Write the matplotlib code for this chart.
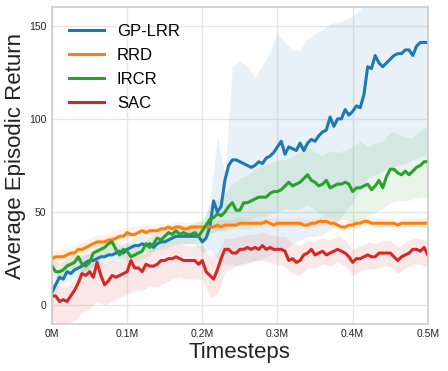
import numpy as np
import matplotlib
matplotlib.use("Agg")
import matplotlib.pyplot as plt
from matplotlib.ticker import FuncFormatter

# mean curves, one value every 5k timesteps (0 .. 0.5M)
gp_lrr = [7, 11, 15, 14, 18, 17, 19, 20, 21, 23,
          24, 24, 25, 26, 26, 27, 27, 28, 29, 28,
          30, 31, 32, 32, 33, 32, 33, 31, 33, 34,
          34, 35, 36, 37, 37, 37, 37, 37, 37, 37,
          34, 36, 42, 56, 50, 53, 67, 75, 78, 78,
          77, 76, 75, 74, 75, 77, 76, 79, 80, 82,
          85, 88, 81, 85, 84, 83, 87, 83, 87, 89,
          88, 91, 93, 94, 101, 96, 100, 100, 105, 102,
          104, 107, 106, 113, 128, 127, 134, 130, 128, 130,
          132, 134, 135, 135, 137, 137, 134, 139, 141, 141, 141]
rrd = [25, 26, 26, 26, 27, 28, 28, 30, 30, 31,
       32, 33, 34, 34, 34, 35, 35, 36, 37, 37,
       39, 38, 38, 39, 40, 39, 40, 40, 40, 41,
       41, 42, 41, 42, 42, 41, 41, 42, 42, 42,
       42, 42, 42, 42, 43, 42, 43, 43, 43, 43,
       44, 44, 44, 44, 44, 44, 44, 45, 44, 43,
       44, 44, 44, 44, 44, 44, 44, 43, 43, 44,
       44, 45, 45, 45, 44, 44, 43, 42, 42, 43,
       43, 44, 44, 45, 45, 44, 44, 44, 44, 44,
       44, 44, 43, 44, 44, 44, 44, 44, 44, 44, 44]
ircr = [21, 18, 18, 19, 21, 22, 23, 26, 22, 21,
        23, 28, 29, 30, 31, 33, 34, 30, 27, 30,
        29, 26, 27, 28, 29, 33, 31, 33, 36, 35,
        37, 39, 38, 40, 38, 39, 38, 38, 39, 37,
        40, 43, 46, 47, 49, 48, 50, 53, 55, 51,
        51, 55, 55, 56, 57, 58, 58, 58, 60, 61,
        61, 62, 64, 66, 64, 65, 66, 68, 70, 67,
        66, 64, 65, 67, 63, 64, 65, 65, 66, 65,
        61, 63, 63, 64, 65, 62, 64, 67, 63, 69,
        73, 73, 71, 70, 72, 70, 72, 74, 75, 77, 77]
sac = [5, 5, 2, 3, 2, 5, 8, 12, 17, 16,
       18, 15, 23, 16, 11, 13, 16, 15, 16, 17,
       18, 24, 20, 20, 18, 22, 21, 21, 22, 24,
       24, 25, 25, 26, 25, 24, 24, 24, 24, 22,
       24, 18, 16, 14, 19, 25, 30, 30, 28, 28,
       30, 30, 31, 30, 31, 30, 32, 30, 31, 30,
       30, 30, 29, 24, 25, 23, 24, 27, 28, 30,
       27, 28, 29, 27, 28, 29, 30, 29, 28, 26,
       23, 25, 25, 26, 27, 26, 26, 28, 28, 28,
       28, 26, 24, 26, 27, 28, 30, 30, 29, 31, 27]

# shaded bands, one value every 10k timesteps
gp_lrr_lo = [2, 10, 13, 15, 17, 20, 21, 22, 23, 25, 26, 28, 29, 29, 30, 30, 32,
             33, 33, 33, 28, 30, 25, 22, 22, 21, 22, 24, 25, 27, 30, 30, 33, 35,
             37, 37, 38, 40, 45, 50, 55, 62, 68, 70, 72, 74, 75, 76, 78, 80, 80]
gp_lrr_hi = [12, 20, 23, 24, 26, 28, 29, 30, 31, 33, 34, 36, 37, 37, 37, 38, 40,
             41, 41, 42, 41, 55, 90, 70, 128, 131, 128, 122, 129, 136, 146, 141,
             137, 137, 143, 146, 148, 151, 152, 153, 155, 158, 170, 175, 178, 180,
             182, 182, 185, 185, 185]
rrd_lo = [21, 21, 22, 23, 25, 27, 29, 30, 31, 33, 35, 35, 37, 37, 37, 38, 38,
          39, 38, 39, 39, 39, 40, 40, 41, 41, 41, 42, 42, 42, 42, 42, 42, 42,
          41, 42, 43, 42, 41, 40, 41, 42, 43, 42, 42, 42, 41, 42, 42, 42, 42]
rrd_hi = [29, 30, 31, 32, 34, 36, 38, 38, 39, 41, 42, 42, 43, 43, 43, 44, 44,
          45, 44, 45, 45, 45, 46, 46, 46, 47, 47, 47, 47, 47, 47, 47, 47, 47,
          46, 47, 48, 47, 46, 45, 46, 47, 48, 47, 47, 47, 46, 47, 47, 47, 47]
ircr_lo = [16, 14, 17, 19, 18, 19, 24, 27, 29, 24, 25, 23, 25, 27, 31, 32, 33,
           33, 33, 33, 33, 38, 40, 40, 43, 44, 46, 47, 47, 49, 50, 52, 51, 52,
           54, 51, 48, 47, 46, 46, 44, 46, 48, 50, 52, 55, 56, 56, 57, 58, 58]
ircr_hi = [26, 22, 25, 27, 27, 28, 33, 35, 38, 32, 33, 32, 34, 36, 40, 42, 43,
           43, 43, 44, 46, 53, 57, 60, 65, 68, 70, 73, 75, 76, 78, 78, 80, 82,
           85, 82, 80, 83, 82, 83, 85, 88, 85, 87, 88, 93, 92, 90, 90, 94, 96]
sac_lo = [-8, -10, -10, -8, -4, -2, 2, 0, 2, 4, 6, 8, 8, 10, 10, 12, 14, 15,
          14, 14, 14, 4, 6, 18, 20, 22, 23, 24, 24, 23, 22, 21, 17, 16, 20, 20,
          22, 21, 23, 21, 16, 18, 20, 19, 21, 21, 17, 20, 22, 22, 20]
sac_hi = [12, 10, 10, 14, 20, 22, 26, 22, 24, 24, 26, 28, 27, 30, 31, 32, 33,
          33, 32, 32, 32, 26, 28, 36, 36, 37, 38, 38, 39, 38, 37, 37, 33, 32,
          35, 34, 36, 35, 37, 35, 30, 32, 34, 33, 35, 35, 31, 34, 36, 36, 34]

labels = ["GP-LRR", "RRD", "IRCR", "SAC"]
colors = ["#1f77b4", "#ff7f0e", "#2ca02c", "#d62728"]

plt.rcParams['font.family'] = ['Liberation Sans', 'DejaVu Sans']

steps = np.linspace(0, 500000, len(gp_lrr))
band_steps = np.linspace(0, 500000, len(gp_lrr_lo))

fig = plt.figure(figsize=(4.48, 3.71), dpi=100)
ax = fig.add_axes([0.116, 0.127, 0.839, 0.854])

means = [gp_lrr, rrd, ircr, sac]
bands = [(gp_lrr_lo, gp_lrr_hi), (rrd_lo, rrd_hi), (ircr_lo, ircr_hi), (sac_lo, sac_hi)]
for mean, (lo, hi), lab, col in zip(means, bands, labels, colors):
    ax.fill_between(band_steps, lo, hi, color=col, alpha=0.1, linewidth=0)
    ax.plot(steps, mean, color=col, lw=2.2, label=lab)

ax.set_xlim(0, 500000)
ax.set_ylim(-10, 160)
ax.set_xticks([0, 100000, 200000, 300000, 400000, 500000])
ax.set_yticks([0, 50, 100, 150])
ax.xaxis.set_major_formatter(FuncFormatter(lambda v, p: '{:g}M'.format(v / 1e6)))
ax.tick_params(axis='both', length=0, labelsize=7.5, colors='#222222', pad=4)

ax.grid(True, color='#e6e6e6', lw=1)
ax.set_axisbelow(True)
for s in ax.spines.values():
    s.set_color('#cccccc')
    s.set_linewidth(1.2)

ax.set_xlabel('Timesteps', fontsize=16, color='#222222', labelpad=2)
ax.set_ylabel('Average Episodic Return', fontsize=16, color='#222222')
ax.yaxis.set_label_coords(-0.068, 0.53)

ax.legend(loc='upper left', frameon=False, fontsize=12, handlelength=2.1,
          handletextpad=0.8, labelspacing=0.55, borderaxespad=0.6)

fig.savefig('out.png', dpi=100)
